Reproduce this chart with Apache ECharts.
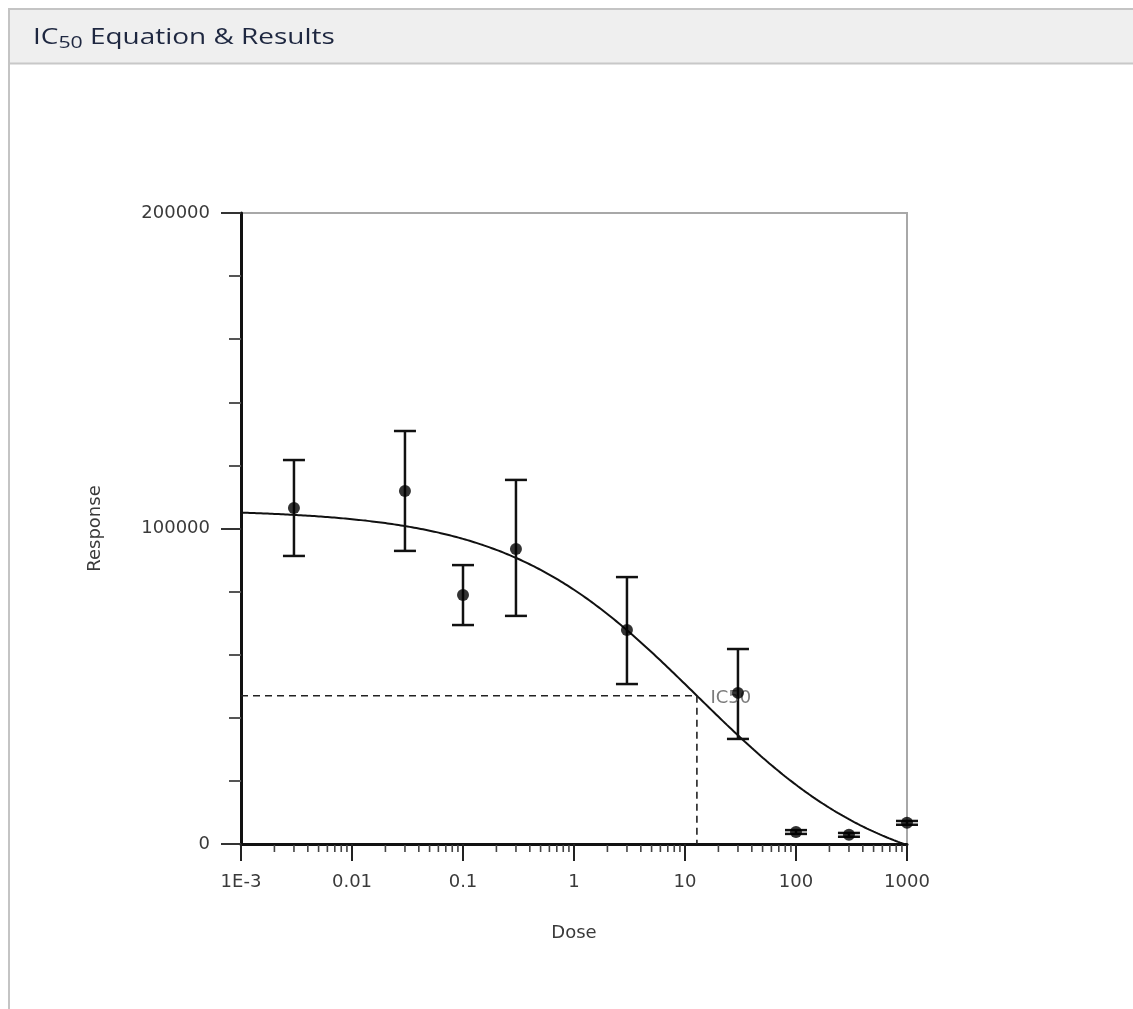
<!DOCTYPE html>
<html>
<head>
<meta charset="utf-8">
<script src="https://cdn.jsdelivr.net/npm/echarts@6/dist/echarts.min.js"></script>
<style>
  html, body { margin: 0; padding: 0; background: #fff; }
  #chart { width: 1133px; height: 1009px; }
</style>
</head>
<body>
<div id="chart"></div>
<script>
// Measured doses and responses (mean with error-bar limits)
const doses        = [0.003, 0.03, 0.1, 0.3, 3, 30, 100, 300, 1000];
const meanResponse = [106500, 111900, 78900, 93500, 67800, 47900, 3800, 2900, 6700];
const errLow       = [91300, 92900, 69400, 72300, 50700, 33300, 3200, 2300, 6100];
const errHigh      = [121700, 130900, 88400, 115400, 84600, 61800, 4400, 3500, 7300];

// Axis tick labels by decade exponent
const xTickLabels = { '-3': '1E-3', '-2': '0.01', '-1': '0.1', '0': '1', '1': '10', '2': '100', '3': '1000' };

// Four-parameter logistic fit
const fitTop = 106000;
const fitBottom = -12000;
const fitIC50 = 12.8;
const fitHill = 0.507;

function logistic(x) {
  return fitBottom + (fitTop - fitBottom) / (1 + Math.pow(x / fitIC50, fitHill));
}

// Fitted curve sampled along the dose axis
const curve = [];
for (let e = -3; e <= 3.0001; e += 0.02) {
  const x = Math.pow(10, e);
  curve.push([x, logistic(x)]);
}
const halfResponse = (fitTop + fitBottom) / 2;

// Minor tick positions (2..9 in each decade)
const minorTicks = [];
for (let k = -3; k < 3; k++) {
  for (let m = 2; m <= 9; m++) minorTicks.push([m * Math.pow(10, k), 0]);
}

const points = doses.map((d, i) => [d, meanResponse[i]]);
const bars = doses.map((d, i) => [d, errLow[i], errHigh[i]]);

const chart = echarts.init(document.getElementById('chart'), null, { renderer: 'canvas' });

const axisFont = { fontFamily: 'DejaVu Sans, sans-serif', fontSize: 18, color: '#3a3a3a' };

chart.setOption({
  backgroundColor: '#fff',
  animation: false,
  graphic: [
    { type: 'rect', shape: { x: 9, y: 9, width: 1140, height: 1010 }, style: { fill: '#fff', stroke: '#c4c4c4', lineWidth: 2 }, z: -10 },
    { type: 'rect', shape: { x: 10, y: 10, width: 1130, height: 53 }, style: { fill: '#efefef' }, z: -9 },
    { type: 'line', shape: { x1: 10, y1: 63.5, x2: 1133, y2: 63.5 }, style: { stroke: '#c8c8c8', lineWidth: 2 }, z: -8 },
    {
      type: 'text', x: 33, y: 38, z: 5, scaleX: 1.33,
      style: {
        text: '{a|IC}{s|50}{a| Equation & Results}',
        verticalAlign: 'middle',
        rich: {
          a: { fontFamily: 'Open Sans, Noto Sans, sans-serif', fontSize: 21, fill: '#1e2740' },
          s: { fontFamily: 'Open Sans, Noto Sans, sans-serif', fontSize: 16, fill: '#1e2740', padding: [11, 0, 0, 0] }
        }
      }
    }
  ],
  grid: {
    left: 241, right: 226, top: 213, bottom: 165,
    show: true, borderColor: '#a8a8a8', borderWidth: 2, backgroundColor: 'transparent'
  },
  xAxis: {
    type: 'log', logBase: 10, min: 0.001, max: 1000, interval: 1,
    name: 'Dose', nameLocation: 'middle', nameGap: 80,
    nameTextStyle: axisFont,
    axisLine: { show: true, onZero: false, lineStyle: { color: '#111', width: 3 } },
    axisTick: { show: true, length: 17, lineStyle: { color: '#222', width: 2 } },
    axisLabel: {
      ...axisFont, margin: 29,
      formatter: v => xTickLabels[String(Math.round(Math.log10(v)))] || ''
    },
    splitLine: { show: false }
  },
  yAxis: {
    type: 'value', min: 0, max: 200000, interval: 100000,
    name: 'Response', nameLocation: 'middle', nameGap: 137,
    nameTextStyle: axisFont,
    axisLine: { show: true, lineStyle: { color: '#111', width: 3 } },
    axisTick: { show: true, length: 20, lineStyle: { color: '#333', width: 2 } },
    minorTick: { show: true, splitNumber: 5, length: 12, lineStyle: { color: '#555', width: 2 } },
    axisLabel: { ...axisFont, margin: 31, formatter: v => String(v) },
    splitLine: { show: false },
    minorSplitLine: { show: false }
  },
  series: [
    {
      // minor ticks of the logarithmic dose axis
      type: 'custom', silent: true, z: 3,
      data: minorTicks,
      renderItem: (params, api) => {
        const p = api.coord([api.value(0), 0]);
        return {
          type: 'line',
          shape: { x1: p[0], y1: p[1] + 1, x2: p[0], y2: p[1] + 8 },
          style: { stroke: '#444', lineWidth: 1.6 }
        };
      }
    },
    {
      type: 'line', data: curve, smooth: false, showSymbol: false, silent: true, z: 4,
      lineStyle: { color: '#111', width: 2 }
    },
    {
      type: 'line', silent: true, showSymbol: false, z: 4,
      data: [[0.001, halfResponse], [fitIC50, halfResponse], [fitIC50, 0]],
      lineStyle: { color: '#222', width: 1.6, type: [7, 5] }
    },
    {
      type: 'scatter', silent: true, z: 6,
      data: [[fitIC50, halfResponse]],
      symbolSize: 1, itemStyle: { color: 'transparent' },
      label: {
        show: true, formatter: 'IC50', position: 'right', distance: 13, offset: [0, 3],
        fontFamily: 'DejaVu Sans, sans-serif', fontSize: 18, color: '#5a5a5a'
      }
    },
    {
      // error bars
      type: 'custom', silent: true, z: 5,
      data: bars,
      renderItem: (params, api) => {
        const x = api.value(0);
        const lo = api.coord([x, api.value(1)]);
        const hi = api.coord([x, api.value(2)]);
        const w = 11;
        const style = { stroke: '#111', lineWidth: 2.5 };
        return {
          type: 'group',
          children: [
            { type: 'line', shape: { x1: lo[0], y1: lo[1], x2: hi[0], y2: hi[1] }, style },
            { type: 'line', shape: { x1: lo[0] - w, y1: lo[1], x2: lo[0] + w, y2: lo[1] }, style },
            { type: 'line', shape: { x1: hi[0] - w, y1: hi[1], x2: hi[0] + w, y2: hi[1] }, style }
          ]
        };
      }
    },
    {
      type: 'scatter', data: points, symbol: 'circle', symbolSize: 12, z: 7,
      itemStyle: { color: '#000' }
    }
  ]
});
</script>
</body>
</html>
